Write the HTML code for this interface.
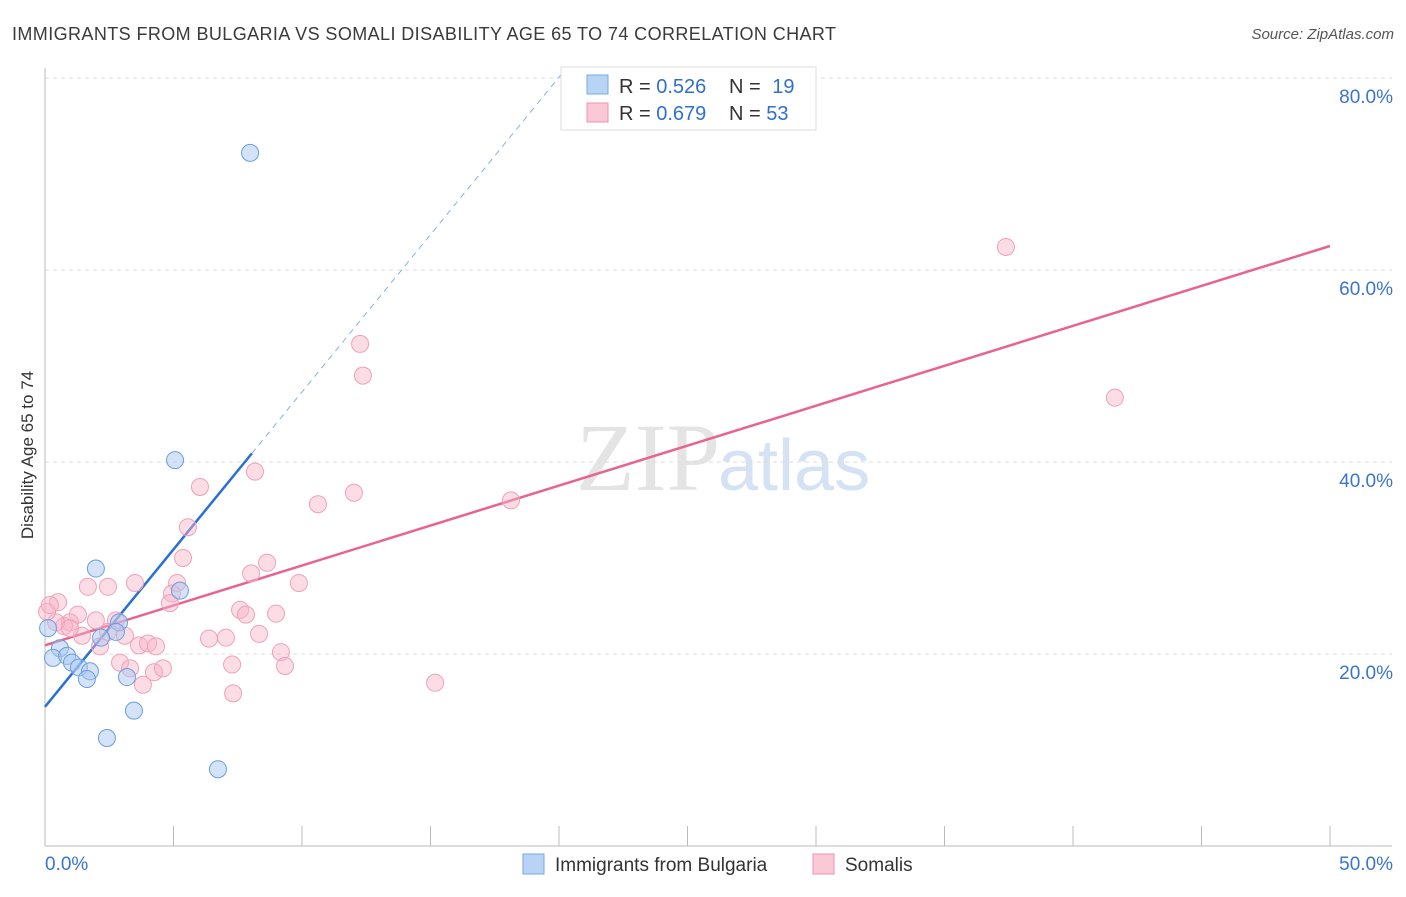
<!DOCTYPE html>
<html><head><meta charset="utf-8"><style>
body{margin:0;background:#fff;font-family:"Liberation Sans",sans-serif;}
</style></head><body>
<svg width="1406" height="892" viewBox="0 0 1406 892" xmlns="http://www.w3.org/2000/svg">
<text x="12" y="40" font-size="18" fill="#3a3a3a" textLength="824" lengthAdjust="spacing">IMMIGRANTS FROM BULGARIA VS SOMALI DISABILITY AGE 65 TO 74 CORRELATION CHART</text>
<text x="1394" y="39" font-size="15" fill="#555" font-style="italic" text-anchor="end">Source: ZipAtlas.com</text>
<text x="720" y="490" font-size="96" font-family="Liberation Serif,serif" fill="#e4e4e4" text-anchor="end">ZIP</text>
<text x="718" y="490" font-size="72" fill="#d4e2f4">atlas</text>
<g id="grid"></g>
<g id="axes"></g>
<text transform="translate(33,455) rotate(-90)" font-size="17" fill="#333" text-anchor="middle">Disability Age 65 to 74</text>
<g id="lines"></g>
<g id="pts"></g>
<g>
<rect x="561" y="67" width="255" height="63" fill="#fff" stroke="#ddd"/>
<rect x="587" y="75" width="21" height="19" fill="#b8d4f5" stroke="#7aa8e0"/>
<rect x="587" y="103" width="21" height="19" fill="#fbc8d6" stroke="#f090ae"/>
<text x="619" y="93" font-size="20" fill="#333">R = <tspan fill="#2f6fd0">0.526</tspan></text>
<text x="729" y="93" font-size="20" fill="#333">N = <tspan fill="#2f6fd0" dx="6">19</tspan></text>
<text x="619" y="120" font-size="20" fill="#333">R = <tspan fill="#2f6fd0">0.679</tspan></text>
<text x="729" y="120" font-size="20" fill="#333">N = <tspan fill="#2f6fd0">53</tspan></text>
</g>
<g>
<rect x="523" y="854" width="21" height="20" fill="#b8d4f5" stroke="#7aa8e0"/>
<text x="555" y="871" font-size="19" fill="#333">Immigrants from Bulgaria</text>
<rect x="813" y="854" width="21" height="20" fill="#fbc8d6" stroke="#f090ae"/>
<text x="845" y="871" font-size="19" fill="#333">Somalis</text>
</g>
</svg>
<script>
const xTicks=[0,50];
const yTicks=[20,40,60,80];
const blueX=[7.98,5.06,1.98,5.25,2.88,2.76,2.18,0.58,0.31,0.86,1.05,1.32,1.75,1.63,3.19,3.46,2.41,6.73,0.12];
const blueY=[72.2,40.2,28.9,26.6,23.3,22.3,21.7,20.6,19.6,19.8,19.1,18.6,18.2,17.4,17.6,14.1,11.25,8.0,22.7];
const pinkX=[37.39,41.63,12.26,12.37,18.13,12.02,10.62,8.17,6.03,5.56,5.37,8.64,5.14,8.02,9.88,3.5,2.45,1.67,4.94,4.86,0.51,7.59,7.82,8.99,1.28,1.98,0.97,0.74,0.43,0.08,2.76,3.11,2.14,3.66,4.01,4.32,1.44,6.38,7.04,8.33,9.18,2.92,3.31,4.24,4.59,7.28,9.34,3.81,7.32,15.18,0.19,2.45,0.97];
const pinkY=[62.4,46.7,52.3,49.0,36.0,36.8,35.6,39.0,37.4,33.2,30.0,29.5,27.4,28.4,27.4,27.4,27.0,27.0,26.3,25.3,25.4,24.6,24.1,24.2,24.1,23.5,23.3,22.9,23.3,24.4,23.5,21.9,20.8,20.9,21.1,20.8,21.9,21.6,21.7,22.1,20.2,19.1,18.5,18.1,18.5,18.9,18.75,16.8,15.9,17.0,25.1,22.3,22.7];
const blueFit=[14.5,40.9,8.05];
const pinkFit=[20.9,62.5];
const NS='http://www.w3.org/2000/svg';
const X=v=>45+v/50*1285, Y=v=>846-v*9.6;
function mk(t,a,p){const e=document.createElementNS(NS,t);for(const k in a)e.setAttribute(k,a[k]);document.getElementById(p).appendChild(e);return e;}
yTicks.forEach(t=>{
 const l=mk('line',{x1:45,x2:1392,y1:Y(t),y2:Y(t),stroke:'#ddd','stroke-dasharray':'4,4'},'grid');
 
 
 const tx=mk('text',{x:1393,y:Y(t)+25,'font-size':19,fill:'#3a75cc','text-anchor':'end'},'grid');
 tx.textContent=t.toFixed(1)+'%';
 
 
});
mk('line',{x1:45,x2:45,y1:68,y2:846,stroke:'#bbb'},'axes');
mk('line',{x1:45,x2:1392,y1:846,y2:846,stroke:'#bbb'},'axes');
for(let i=0;i<=10;i++){const e=mk('line',{x1:X(i*5),x2:X(i*5),y1:826,y2:846,stroke:'#bbb'},'axes');}
xTicks.forEach((t,i)=>{const tx=mk('text',{x:i?1393:45,y:870,'font-size':19,fill:'#3a75cc','text-anchor':i?'end':'start'},'axes');tx.textContent=t.toFixed(1)+'%';});
const slope=(blueFit[1]-blueFit[0])/blueFit[2];
const xEnd=(80.5-blueFit[0])/slope;
let l=mk('line',{x1:X(blueFit[2]),y1:Y(blueFit[1]),x2:X(xEnd),y2:Y(80.5),stroke:'#8ab0e0','stroke-dasharray':'6,5'},'lines');


l=mk('line',{x1:X(0),y1:Y(blueFit[0]),x2:X(blueFit[2]),y2:Y(blueFit[1]),stroke:'#2a6fd6','stroke-width':2.5},'lines');


l=mk('line',{x1:X(0),y1:Y(pinkFit[0]),x2:X(50),y2:Y(pinkFit[1]),stroke:'#e8648f','stroke-width':2.5},'lines');


pinkX.forEach((x,i)=>{const c=mk('circle',{cx:X(x),cy:Y(pinkY[i]),r:8.5,fill:'rgba(248,180,200,0.45)',stroke:'#f0a0b8','stroke-width':1},'pts');});
blueX.forEach((x,i)=>{const c=mk('circle',{cx:X(x),cy:Y(blueY[i]),r:8.5,fill:'rgba(170,200,240,0.5)',stroke:'#6a9ee0','stroke-width':1},'pts');});
</script>
</body></html>
